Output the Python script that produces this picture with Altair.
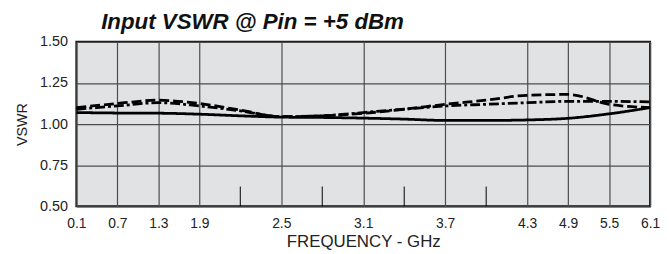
import altair as alt
import pandas as pd

idx = list(range(15))
freq_labels = ["0.1", "0.7", "1.3", "1.9", "", "2.5", "", "3.1", "", "3.7", "", "4.3", "4.9", "5.5", "6.1"]
grid_idx = [0, 1, 2, 3, 5, 7, 9, 11, 12, 13, 14]
short_tick_idx = [4, 6, 8, 10]

solid = [1.07, 1.067, 1.066, 1.06, 1.05, 1.042, 1.04, 1.036, 1.03, 1.022, 1.022, 1.025, 1.035, 1.062, 1.10]
dashed = [1.10, 1.125, 1.145, 1.125, 1.085, 1.045, 1.05, 1.065, 1.09, 1.12, 1.145, 1.175, 1.18, 1.12, 1.10]
dashdot = [1.09, 1.11, 1.13, 1.11, 1.08, 1.045, 1.05, 1.07, 1.09, 1.11, 1.12, 1.13, 1.138, 1.138, 1.135]

rows = []
for name, vals in [("solid", solid), ("dashed", dashed), ("dashdot", dashdot)]:
    for i, v in zip(idx, vals):
        rows.append({"i": i, "v": v, "s": name})
df = pd.DataFrame(rows)

ticks_df = pd.DataFrame({"i": short_tick_idx, "y0": [0.5] * 4, "y1": [0.62] * 4})

label_arr = "[" + ",".join("'" + l + "'" for l in freq_labels) + "]"

xscale = alt.Scale(domain=[0, 14], nice=False, zero=False)
yscale = alt.Scale(domain=[0.5, 1.5], nice=False, zero=False)

FONT = "Liberation Sans"

lines = alt.Chart(df).mark_line(color="black", strokeWidth=2.8, interpolate="monotone").encode(
    x=alt.X("i:Q", scale=xscale,
            axis=alt.Axis(values=grid_idx, labelExpr=label_arr + "[datum.value]",
                          title="FREQUENCY - GHz", grid=True, gridColor="#4d4d4d", gridWidth=1.2,
                          ticks=False, domain=False, labelPadding=10, labelFontSize=14,
                          labelFont=FONT, titleFont=FONT,
                          titleFontSize=17, titleFontWeight="normal", titlePadding=4,
                          labelColor="#222", titleColor="#222", labelFlush=False)),
    y=alt.Y("v:Q", scale=yscale,
            axis=alt.Axis(values=[0.5, 0.75, 1.0, 1.25, 1.5], format=".2f", title="VSWR",
                          grid=True, gridColor="#4d4d4d", gridWidth=1.2, ticks=False, domain=False,
                          labelPadding=9, labelFontSize=14.5, labelFont=FONT,
                          titleFont=FONT, titleFontSize=14.5, titleFontWeight="normal",
                          titlePadding=10, labelColor="#222", titleColor="#222")),
    strokeDash=alt.StrokeDash("s:N", scale=alt.Scale(domain=["solid", "dashed", "dashdot"],
                                                      range=[[1, 0], [10, 4], [10, 3, 3, 3]]), legend=None),
    detail="s:N",
)

short_ticks = alt.Chart(ticks_df).mark_rule(color="black", strokeWidth=1).encode(
    x=alt.X("i:Q", scale=xscale),
    y=alt.Y("y0:Q", scale=yscale),
    y2="y1:Q",
)

chart = alt.layer(short_ticks, lines).properties(
    width=579, height=166,
    title=alt.TitleParams("Input VSWR @ Pin = +5 dBm", anchor="start", frame="group", dx=25,
                          fontSize=22.5, font=FONT, fontStyle="italic", fontWeight="bold",
                          offset=0, color="#111"),
    autosize=alt.AutoSizeParams(type="none"),
    padding={"left": 69, "top": 33, "right": 11, "bottom": 45},
).configure_view(fill="#e1e2e4", stroke="#111", strokeWidth=2)

chart.save("out.html", embed_options={"renderer": "svg", "actions": False})
